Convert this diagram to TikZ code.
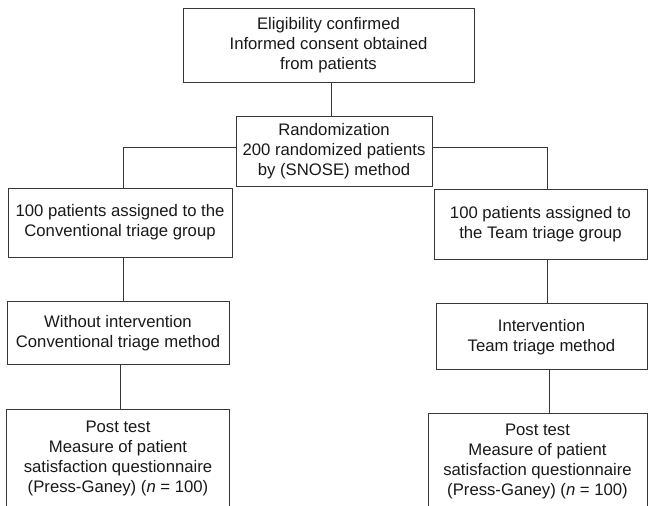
\documentclass[tikz,border=0pt]{standalone}
\usepackage{fontspec}
\setmainfont{Liberation Sans}
\usetikzlibrary{positioning,calc}
\tikzset{
  every picture/.append style={line width=0.9pt},
}
\definecolor{linegray}{RGB}{55,55,55}
\definecolor{textgray}{RGB}{25,25,25}

\begin{document}
\begin{tikzpicture}[
  x=1pt, y=1pt,
  font=\fontsize{16.7}{20}\selectfont,
  node distance=44pt,
  box/.style={rectangle, draw=linegray, text=textgray, align=center, inner sep=0pt},
  link/.style={draw=linegray, line width=0.9pt}
]
\useasboundingbox (0,0) rectangle (648,506);

% --- Enrolment and randomization ---
\node[box, minimum width=291pt, minimum height=74pt] (elig) at (328.5,461) {%
  Eligibility confirmed\\
  Informed consent obtained\\
  from patients
};
\node[box, minimum width=196pt, minimum height=70pt] (rand) at (334,355) {%
  Randomization\\
  200 randomized patients\\
  by (SNOSE) method
};

% --- Conventional triage arm (left) ---
\node[box, minimum width=224pt, minimum height=69pt] (convgrp) at (120,283.5) {%
  100 patients assigned to the\\
  Conventional triage group
};
\node[box, minimum width=222pt, minimum height=63pt, below=of convgrp, xshift=-2pt] (convint) {%
  Without intervention\\
  Conventional triage method
};
\node[box, minimum width=223pt, minimum height=97pt, below=of convint] (convpost) {%
  Post test\\
  Measure of patient\\
  satisfaction questionnaire\\
  (Press-Ganey) (\textit{n} = 100)
};

% --- Team triage arm (right) ---
\node[box, minimum width=213pt, minimum height=70pt] (teamgrp) at (540.5,282) {%
  100 patients assigned to\\
  the Team triage group
};
\node[box, minimum width=211pt, minimum height=66pt, below=of teamgrp, xshift=1pt] (teamint) {%
  Intervention\\
  Team triage method
};
\node[box, minimum width=219pt, minimum height=95pt, below=43pt of teamint, xshift=-4pt] (teampost) {%
  Post test\\
  Measure of patient\\
  satisfaction questionnaire\\
  (Press-Ganey) (\textit{n} = 100)
};

% --- Connectors ---
\draw[link] ([xshift=2.5pt]elig.south) -- ([xshift=2.5pt]elig.south |- rand.north);
\draw[link] ([yshift=4pt]rand.west) -| ([xshift=3pt]convgrp.north);
\draw[link] ([yshift=4pt]rand.east) -| ([xshift=6.5pt]teamgrp.north);
\draw[link] ([xshift=3pt]convgrp.south) -- ([xshift=3pt]convgrp.south |- convint.north);
\draw[link] ([xshift=2pt]convint.south) -- ([xshift=2pt]convint.south |- convpost.north);
\draw[link] ([xshift=6.5pt]teamgrp.south) -- ([xshift=6.5pt]teamgrp.south |- teamint.north);
\draw[link] ([xshift=7.5pt]teamint.south) -- ([xshift=7.5pt]teamint.south |- teampost.north);

\end{tikzpicture}
\end{document}
